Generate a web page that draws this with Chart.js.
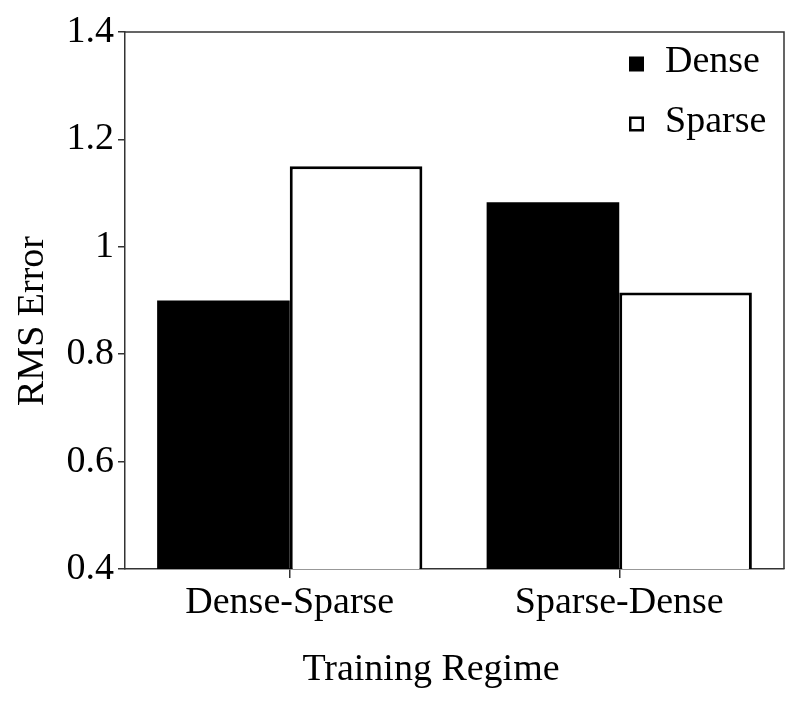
<!DOCTYPE html>
<html><head><meta charset="utf-8">
<script src="https://cdn.jsdelivr.net/npm/chart.js@4.4.0/dist/chart.umd.min.js"></script>
<style>html,body{margin:0;padding:0;background:#fff}</style>
</head><body>
<canvas id="c" width="800" height="704"></canvas>
<script>
const categories = ['Dense-Sparse', 'Sparse-Dense'];
const denseValues = [0.90, 1.083];
const sparseValues = [1.15, 0.915];
const seriesNames = ['Dense', 'Sparse'];
const yTickValues = [0.4, 0.6, 0.8, 1.0, 1.2, 1.4];
const xAxisTitle = 'Training Regime';
const yAxisTitle = 'RMS Error';

const FONT = "'Liberation Serif', 'Times New Roman', serif";
const AXIS = '#333333';

const framePlugin = {
  id: 'frame',
  afterDatasetsDraw(chart) {
    const ctx = chart.ctx, a = chart.chartArea;
    ctx.save();
    ctx.strokeStyle = AXIS;
    ctx.lineWidth = 1.5;
    ctx.beginPath();
    ctx.moveTo(a.left, a.top); ctx.lineTo(a.right, a.top); ctx.lineTo(a.right, a.bottom);
    ctx.stroke();
    ctx.restore();
  }
};

const titlePlugin = {
  id: 'axisTitles',
  afterDraw(chart) {
    const ctx = chart.ctx, a = chart.chartArea;
    ctx.save();
    ctx.font = '38px ' + FONT;
    ctx.fillStyle = '#000';
    ctx.textAlign = 'center';
    ctx.textBaseline = 'alphabetic';
    ctx.fillText(xAxisTitle, a.left + 306, a.bottom + 111);
    ctx.translate(a.left - 82, a.top + 289);
    ctx.rotate(-Math.PI / 2);
    ctx.fillText(yAxisTitle, 0, 0);
    ctx.restore();
  }
};

const legendPlugin = {
  id: 'boxLegend',
  afterDraw(chart) {
    const ctx = chart.ctx, a = chart.chartArea;
    ctx.save();
    ctx.font = '38px ' + FONT;
    ctx.textBaseline = 'middle';
    ctx.fillStyle = '#000';
    chart.data.datasets.forEach((ds, i) => {
      const cy = a.top + 32 + i * 60;
      const mx = a.right - 155;
      if (ds.backgroundColor === '#000000') {
        ctx.fillStyle = '#000';
        ctx.fillRect(mx, cy - 7.5, 15, 15);
      } else {
        ctx.fillStyle = '#fff';
        ctx.fillRect(mx, cy - 7.5, 15, 15);
        ctx.strokeStyle = '#000';
        ctx.lineWidth = 2.5;
        ctx.strokeRect(mx + 1.25, cy - 6.25, 12.5, 12.5);
      }
      ctx.fillStyle = '#000';
      ctx.fillText(ds.label, a.right - 119, cy - 2);
    });
    ctx.restore();
  }
};

new Chart(document.getElementById('c'), {
  type: 'bar',
  data: {
    labels: categories,
    datasets: [
      { label: seriesNames[0], data: denseValues, backgroundColor: '#000000', borderColor: '#000000', borderWidth: 0 },
      { label: seriesNames[1], data: sparseValues, backgroundColor: '#ffffff', borderColor: '#000000', borderWidth: 3 }
    ]
  },
  options: {
    responsive: false,
    animation: false,
    devicePixelRatio: 1,
    layout: { padding: { top: 32, right: 16, left: 0, bottom: 0 } },
    datasets: { bar: { categoryPercentage: 0.805, barPercentage: 1.0, borderSkipped: false } },
    plugins: { legend: { display: false }, tooltip: { enabled: false } },
    scales: {
      x: {
        offset: true,
        grid: { display: true, drawOnChartArea: false, offset: false, tickLength: 9, color: AXIS, lineWidth: 1.5 },
        border: { display: true, color: AXIS, width: 1.5 },
        ticks: { color: '#000', font: { family: FONT, size: 38 }, padding: 2, maxRotation: 0 },
        title: { display: false, text: xAxisTitle },
        afterFit(scale) { scale.height = 135; }
      },
      y: {
        min: 0.4, max: 1.4,
        afterBuildTicks(scale) { scale.ticks = yTickValues.map(v => ({ value: v })); },
        grid: { display: true, drawOnChartArea: false, tickLength: 7, color: AXIS, lineWidth: 1.5 },
        border: { display: true, color: AXIS, width: 1.5 },
        ticks: { color: '#000', font: { family: FONT, size: 38 }, padding: 4,
          callback: v => String(Number(v.toFixed(1))) },
        title: { display: false, text: yAxisTitle },
        afterFit(scale) { scale.width = 125; }
      }
    }
  },
  plugins: [framePlugin, titlePlugin, legendPlugin]
});
</script>
</body></html>
